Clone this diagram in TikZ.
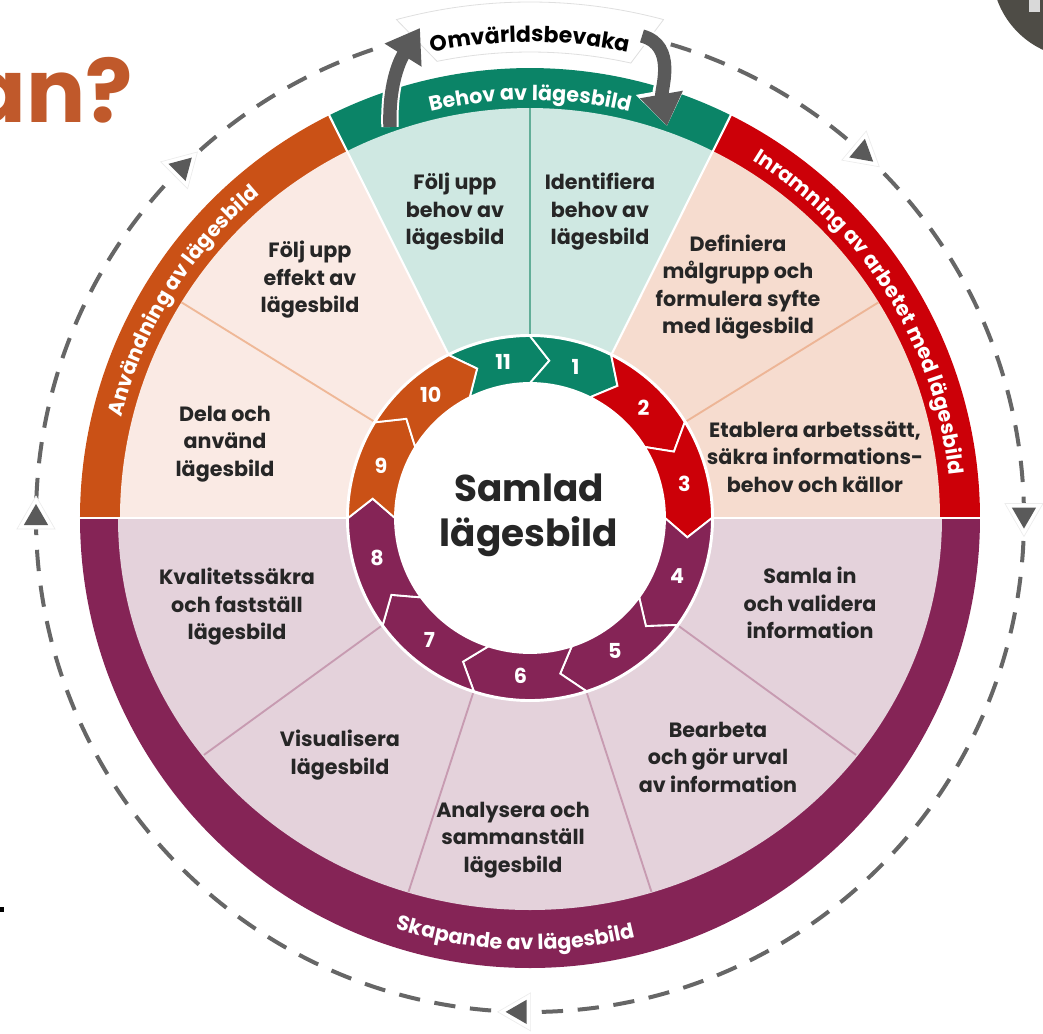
\documentclass[tikz,border=0pt]{standalone}
\usepackage{fontspec}
\setmainfont{Poppins}
\usetikzlibrary{arrows.meta, decorations.text}

\definecolor{BandTeal}{HTML}{0B8467}
\definecolor{LightTeal}{HTML}{CFE8E2}
\definecolor{LineTeal}{HTML}{62AE98}
\definecolor{BandRed}{HTML}{CC0008}
\definecolor{LightRed}{HTML}{F6DCCF}
\definecolor{LineRed}{HTML}{EDB596}
\definecolor{BandOrange}{HTML}{CA5116}
\definecolor{LightOrange}{HTML}{FAEAE4}
\definecolor{LineOrange}{HTML}{EFB897}
\definecolor{BandPurple}{HTML}{852456}
\definecolor{LightPurple}{HTML}{E4D2DB}
\definecolor{LinePurple}{HTML}{C79BB1}
\definecolor{TextDark}{HTML}{262626}
\definecolor{DashGray}{HTML}{666666}
\definecolor{ArrowGray}{HTML}{5A5A5A}
\definecolor{TitleOrange}{HTML}{C0592B}
\definecolor{CornerGray}{HTML}{4E4C46}

\newcommand{\stepfont}{\fontsize{15.5}{20.6}\selectfont\bfseries}
\newcommand{\bandfont}{\fontsize{15.5}{18}\selectfont\bfseries\color{white}}
\newcommand{\ringfont}{\fontsize{15.5}{18}\selectfont\bfseries}
\newcommand{\hubfont}{\fontsize{28}{34}\selectfont\bfseries}

\begin{document}
\begin{tikzpicture}[x=0.75pt, y=0.75pt,
    steptext/.style={align=center, text=TextDark, font=\stepfont, inner sep=0pt},
    ringnum/.style={text=white, font=\ringfont, inner sep=0pt},
    ringseg/.style={draw=white, line width=1.4pt},
    divline/.style={line width=1.4pt},
    bandsep/.style={draw=white, line width=1.6pt},
    cycledash/.style={draw=DashGray, line width=3pt, dash pattern=on 16pt off 11pt},
    cyclehalo/.style={fill=white, draw=gray!15, line width=0.5pt},
    cyclehead/.style={fill=ArrowGray},
    watchhalo/.style={draw=white, line width=13pt, -{Triangle[length=27pt, width=36pt]}},
    watcharrow/.style={draw=ArrowGray, line width=10pt, -{Triangle[length=24pt, width=31pt]}}]
    \useasboundingbox (-530,-515) rectangle (513,518);
    \clip (-530,-515) rectangle (513,518);

    % Page leftovers
    \node[anchor=base east, text=TitleOrange, font=\fontsize{66}{70}\selectfont\bfseries, inner sep=0pt] (title) at (-397,396) {an?};
    \fill[CornerGray] (550,548) circle[radius=88];
    \fill[gray!30] (499,506) rectangle (510,518);
    \fill[black] (-530,-389) rectangle (-526,-394);

    % Outer cycle
    \draw[cycledash] (0,0) circle[radius=494];

    % Bands
    \fill[BandOrange] (0,0) -- (180:450) arc[start angle=180, end angle=116.5, radius=450] -- cycle;
    \fill[BandTeal] (0,0) -- (116.5:450) arc[start angle=116.5, end angle=63.5, radius=450] -- cycle;
    \fill[BandRed] (0,0) -- (63.5:450) arc[start angle=63.5, end angle=0, radius=450] -- cycle;
    \fill[BandPurple] (0,0) -- (180:450) arc[start angle=180, end angle=360, radius=450] -- cycle;
    \fill[LightOrange] (0,0) -- (180:410) arc[start angle=180, end angle=116.5, radius=410] -- cycle;
    \fill[LightTeal] (0,0) -- (116.5:410) arc[start angle=116.5, end angle=63.5, radius=410] -- cycle;
    \fill[LightRed] (0,0) -- (63.5:410) arc[start angle=63.5, end angle=0, radius=410] -- cycle;
    \fill[LightPurple] (180:412) arc[start angle=180, end angle=360, x radius=412, y radius=392] -- cycle;

    % Dividers
    \draw[divline, LineTeal] (90:184) -- (90:410);
    \draw[divline, LineOrange] (148.25:184) -- (148.25:410);
    \draw[divline, LineRed] (31.75:184) -- (31.75:410);
    \draw[divline, LinePurple] (216:184) -- (216:403);
    \draw[divline, LinePurple] (252:184) -- (252:393);
    \draw[divline, LinePurple] (288:184) -- (288:393);
    \draw[divline, LinePurple] (324:184) -- (324:403);
    \foreach \ang in {0, 63.5, 116.5, 180}
        \draw[bandsep] (\ang:184) -- (\ang:452);

    % Ring of steps
    \fill[white] (0,0) circle[radius=184];
    \foreach \from/\to/\col/\num in {116.5/90/BandTeal/11, 90/63.5/BandTeal/1, 63.5/31.75/BandRed/2,
        31.75/0/BandRed/3, 0/-36/BandPurple/4, -36/-72/BandPurple/5, -72/-108/BandPurple/6,
        -108/-144/BandPurple/7, -144/-180/BandPurple/8, 180/148.25/BandOrange/9, 148.25/116.5/BandOrange/10}{
        \filldraw[ringseg, fill=\col] (\from:182) arc[start angle=\from, end angle=\to, radius=182]
            -- ({\to-7}:158.5) -- (\to:135) arc[start angle=\to, end angle=\from, radius=135]
            -- ({\from-7}:158.5) -- cycle;
        \node[ringnum] (ring\num) at ({(\from+\to)/2-3.5}:158) {\num};
    }
    \node[align=center, text=TextDark, font=\hubfont, inner sep=0pt] (hub) at (-1,3) {Samlad\\lägesbild};

    % Band labels
    \path[decorate, decoration={text along path, text align=center, text={|\bandfont|Behov av lägesbild}}]
        (125:418) arc[start angle=125, end angle=55, radius=418];
    \path[decorate, decoration={text along path, text align=center, text={|\bandfont|Inramning av arbetet med lägesbild}}]
        (66:421) arc[start angle=66, end angle=-2, radius=421];
    \path[decorate, decoration={text along path, text align=center, text={|\bandfont|Användning av lägesbild}}]
        (182:421) arc[start angle=182, end angle=114, radius=421];
    \path[decorate, decoration={text along path, text align=center, text={|\bandfont|Skapande av lägesbild}}]
        (236:432) arc[start angle=236, end angle=300, radius=432];

    % Step texts
    \node[steptext] (followneed) at (-75,306) {Följ upp\\behov av\\lägesbild};
    \node[steptext] (identify) at (70,306) {Identifiera\\behov av\\lägesbild};
    \node[steptext] (define) at (208,231) {Definiera\\målgrupp och\\formulera syfte\\med lägesbild};
    \node[steptext] (establish) at (285,61) {Etablera arbetssätt,\\säkra informations-\\behov och källor};
    \node[steptext] (collect) at (280,-85) {Samla in\\och validera\\information};
    \node[steptext] (process) at (188,-239) {Bearbeta\\och gör urval\\av information};
    \node[steptext] (analyse) at (-17,-322) {Analysera och\\sammanställ\\lägesbild};
    \node[steptext] (visualise) at (-190,-237) {Visualisera\\lägesbild};
    \node[steptext] (qualify) at (-293,-89) {Kvalitetssäkra\\och fastställ\\lägesbild};
    \node[steptext] (share) at (-305,74) {Dela och\\använd\\lägesbild};
    \node[steptext] (followeffect) at (-220,238) {Följ upp\\effekt av\\lägesbild};

    % Omvärldsbevaka banner
    \filldraw[fill=white, draw=gray!25, line width=0.6pt] (101.5:466) arc[start angle=101.5, end angle=77.5, radius=466]
        -- (75:516) arc[start angle=75, end angle=105, radius=516] -- cycle;
    \path[decorate, decoration={text along path, text align=center, text={|\fontsize{16.5}{18}\selectfont\bfseries|Omvärldsbevaka}}]
        (112:476) arc[start angle=112, end angle=68, radius=476];
    \coordinate (watchleftstart) at (-140,391);
    \coordinate (watchleftend) at (-110,490);
    \coordinate (watchrightstart) at (112,482);
    \coordinate (watchrightend) at (137,392);
    \draw[watchhalo] (watchleftstart) to[out=92, in=238] (watchleftend);
    \draw[watchhalo] (watchrightstart) to[out=-15, in=100] (watchrightend);
    \draw[watcharrow] (watchleftstart) to[out=92, in=238] (watchleftend);
    \draw[watcharrow] (watchrightstart) to[out=-15, in=100] (watchrightend);

    % Direction marks on the cycle
    \foreach \at/\dir in {180/90, 134.8/45, 47.7/80, 0.4/-90, 268.8/180}{
        \filldraw[cyclehalo, shift={(\at:494)}] (\dir:22) -- ({\dir+120}:22) -- ({\dir+240}:22) -- cycle;
        \fill[cyclehead, shift={(\at:494)}] (\dir:14) -- ({\dir+120}:14) -- ({\dir+240}:14) -- cycle;
    }
\end{tikzpicture}
\end{document}
